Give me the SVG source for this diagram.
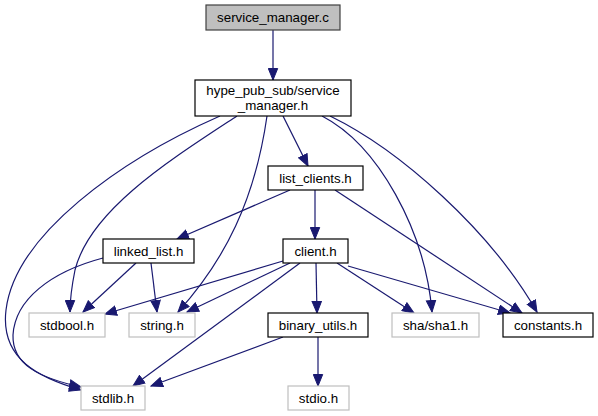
<svg xmlns="http://www.w3.org/2000/svg" width="598" height="416" viewBox="0 0 598 416">
<style>
.n rect{fill:#ffffff;stroke:#000000;stroke-width:1.2}
.n.ext rect{stroke:#bfbfbf}
.n.root rect{fill:#bfbfbf;stroke:#404040}
.n text{font-family:"Liberation Sans",Arial,sans-serif;font-size:13.33px;text-anchor:middle;fill:#000000}
#edges path{fill:none;stroke:#191970;stroke-width:1.2;marker-end:url(#arr)}
</style>
<defs>
<marker id="arr" markerWidth="13" markerHeight="11" refX="12" refY="5.5" orient="auto" markerUnits="userSpaceOnUse">
<path d="M0.5,0.8 L12,5.5 L0.5,10.2 z" fill="#191970" stroke="#191970" stroke-width="1"/>
</marker>
</defs>
<rect width="598" height="416" fill="#ffffff"/>
<g id="edges">
<path d="M273,30 L273,80"/>
<path d="M283,116 L308,166"/>
<path d="M220,116 C120,160 15,235 6,310 C0,360 40,378 81,390"/>
<path d="M237,116 C170,160 90,210 75,270 C71,290 70,300 70,312"/>
<path d="M267,116 C255,200 225,260 178,312"/>
<path d="M322,116 C378,145 425,230 432,312"/>
<path d="M330,116 C400,150 490,230 537,312"/>
<path d="M290,190 L177,239"/>
<path d="M315,190 L315,239"/>
<path d="M335,190 L522,313"/>
<path d="M103,258 C50,272 15,300 13,335 C12,365 40,378 81,387"/>
<path d="M136,263 L83,312"/>
<path d="M151,263 L157,312"/>
<path d="M283,261 L105,314"/>
<path d="M290,263 L187,312"/>
<path d="M300,263 L133,386"/>
<path d="M316,263 L317,313"/>
<path d="M337,263 L414,313"/>
<path d="M348,266 L510,313"/>
<path d="M283,337 L151,386"/>
<path d="M318,337 L318,386"/>
</g>
<g id="service_manager_c" class="n root"><rect x="206" y="5" width="134" height="25"/><text x="273" y="22">service_manager.c</text></g>
<g id="service_manager_h" class="n"><rect x="195" y="80" width="156" height="36"/><text x="273" y="95">hype_pub_sub/service</text><text x="273" y="109.5">_manager.h</text></g>
<g id="list_clients_h" class="n"><rect x="268" y="166" width="95" height="24"/><text x="315.5" y="182.5">list_clients.h</text></g>
<g id="linked_list_h" class="n"><rect x="103" y="239" width="91" height="24"/><text x="148.5" y="255.5">linked_list.h</text></g>
<g id="client_h" class="n"><rect x="283" y="239" width="65" height="24"/><text x="315.5" y="255.5">client.h</text></g>
<g id="stdbool_h" class="n ext"><rect x="29" y="313" width="76" height="24"/><text x="67" y="329.5">stdbool.h</text></g>
<g id="string_h" class="n ext"><rect x="129" y="313" width="66" height="24"/><text x="162" y="329.5">string.h</text></g>
<g id="binary_utils_h" class="n"><rect x="268" y="313" width="100" height="24"/><text x="318" y="329.5">binary_utils.h</text></g>
<g id="sha1_h" class="n ext"><rect x="392" y="313" width="87" height="24"/><text x="435.5" y="329.5">sha/sha1.h</text></g>
<g id="constants_h" class="n"><rect x="503" y="313" width="90" height="24"/><text x="548" y="329.5">constants.h</text></g>
<g id="stdlib_h" class="n ext"><rect x="81" y="386" width="64" height="24"/><text x="113" y="402.5">stdlib.h</text></g>
<g id="stdio_h" class="n ext"><rect x="288" y="386" width="61" height="24"/><text x="318.5" y="402.5">stdio.h</text></g>
</svg>
